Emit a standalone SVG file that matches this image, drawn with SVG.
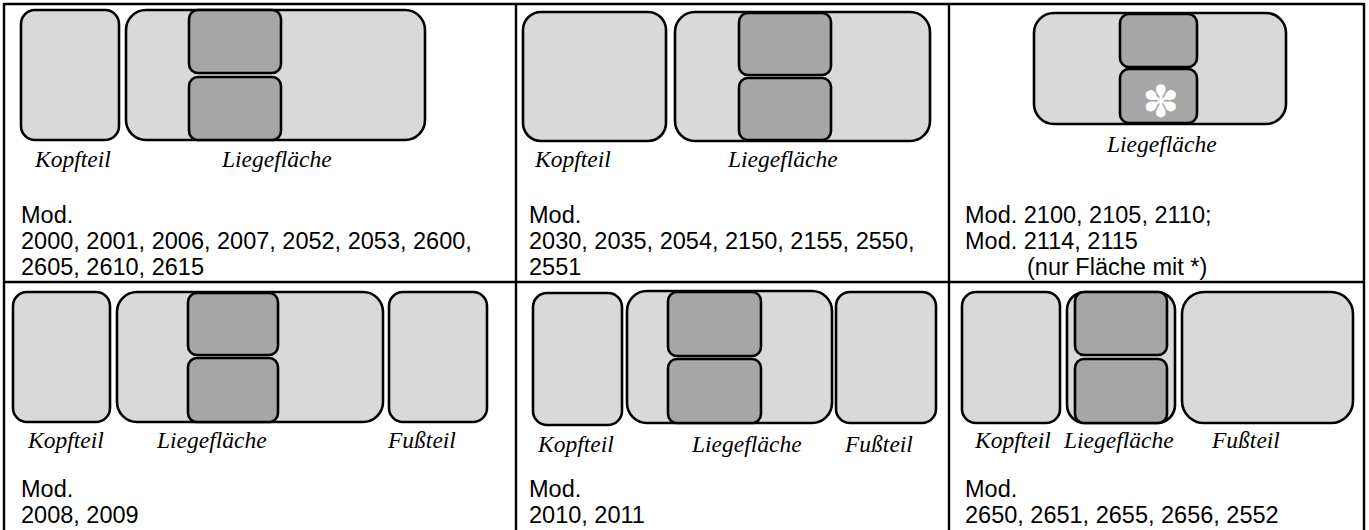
<svg xmlns="http://www.w3.org/2000/svg" width="1369" height="530" viewBox="0 0 1369 530">
<style>
.grid{stroke:#000;stroke-width:2.4;fill:none}
.lt{fill:#d9d9d9;stroke:#000;stroke-width:2.6}
.dk{fill:#a6a6a6;stroke:#000;stroke-width:2.6}
.lbl{font-family:"Liberation Serif","Times New Roman",serif;font-style:italic;font-size:23.5px;fill:#000}
.mod{font-family:"Liberation Sans",Arial,sans-serif;font-size:23.5px;fill:#000}
.star{font-family:"DejaVu Sans",sans-serif;font-size:44px;fill:#fff}
</style>
<rect width="1369" height="530" fill="#fff"/>
<g id="table">
<line class="grid" x1="4" y1="4" x2="1364" y2="4"/>
<line class="grid" x1="4" y1="282" x2="1364" y2="282"/>
<line class="grid" x1="4" y1="3" x2="4" y2="530"/>
<line class="grid" x1="516" y1="3" x2="516" y2="530"/>
<line class="grid" x1="949" y1="3" x2="949" y2="530"/>
<line class="grid" x1="1364" y1="3" x2="1364" y2="530"/>
</g>
<g id="cell1">
<rect class="lt" x="21" y="10" width="98" height="130" rx="14"/>
<rect class="lt" x="126" y="10" width="299" height="130" rx="20"/>
<rect class="dk" x="189" y="10" width="92" height="63" rx="9"/>
<rect class="dk" x="189" y="77" width="92" height="63" rx="9"/>
<text class="lbl" x="35" y="167">Kopfteil</text>
<text class="lbl" x="222" y="167">Liegefläche</text>
<text class="mod" x="21" y="223">Mod.</text>
<text class="mod" x="21" y="249">2000, 2001, 2006, 2007, 2052, 2053, 2600,</text>
<text class="mod" x="21" y="275">2605, 2610, 2615</text>
</g>
<g id="cell2">
<rect class="lt" x="523" y="12" width="143" height="129" rx="18"/>
<rect class="lt" x="675" y="12" width="255" height="129" rx="20"/>
<rect class="dk" x="739" y="13" width="92" height="62" rx="9"/>
<rect class="dk" x="739" y="78" width="92" height="62" rx="9"/>
<text class="lbl" x="535" y="167">Kopfteil</text>
<text class="lbl" x="728" y="167">Liegefläche</text>
<text class="mod" x="529" y="223">Mod.</text>
<text class="mod" x="529" y="249">2030, 2035, 2054, 2150, 2155, 2550,</text>
<text class="mod" x="529" y="275">2551</text>
</g>
<g id="cell3">
<rect class="lt" x="1034" y="13" width="252" height="111" rx="20"/>
<rect class="dk" x="1120" y="14" width="77" height="53" rx="9"/>
<rect class="dk" x="1120" y="69" width="77" height="54" rx="9"/>
<text class="star" x="1161" y="117" text-anchor="middle">✽</text>
<text class="lbl" x="1107" y="152">Liegefläche</text>
<text class="mod" x="965" y="223">Mod. 2100, 2105, 2110;</text>
<text class="mod" x="965" y="249">Mod. 2114, 2115</text>
<text class="mod" x="1027" y="275">(nur Fläche mit *)</text>
</g>
<g id="cell4">
<rect class="lt" x="13" y="292" width="97" height="130" rx="14"/>
<rect class="lt" x="117" y="292" width="266" height="130" rx="20"/>
<rect class="dk" x="188" y="293" width="90" height="62" rx="9"/>
<rect class="dk" x="188" y="358" width="90" height="64" rx="9"/>
<rect class="lt" x="389" y="292" width="98" height="130" rx="14"/>
<text class="lbl" x="28" y="448">Kopfteil</text>
<text class="lbl" x="157" y="448">Liegefläche</text>
<text class="lbl" x="388" y="448">Fußteil</text>
<text class="mod" x="21" y="497">Mod.</text>
<text class="mod" x="21" y="523">2008, 2009</text>
</g>
<g id="cell5">
<rect class="lt" x="533" y="293" width="89" height="132" rx="14"/>
<rect class="lt" x="627" y="291" width="205" height="132" rx="20"/>
<rect class="dk" x="668" y="292" width="93" height="64" rx="9"/>
<rect class="dk" x="668" y="359" width="93" height="64" rx="9"/>
<rect class="lt" x="836" y="292" width="100" height="131" rx="14"/>
<text class="lbl" x="538" y="452">Kopfteil</text>
<text class="lbl" x="692" y="452">Liegefläche</text>
<text class="lbl" x="845" y="452">Fußteil</text>
<text class="mod" x="529" y="497">Mod.</text>
<text class="mod" x="529" y="523">2010, 2011</text>
</g>
<g id="cell6">
<rect class="lt" x="962" y="292" width="98" height="131" rx="14"/>
<rect class="lt" x="1067" y="292" width="108" height="131" rx="18"/>
<rect class="dk" x="1075" y="292" width="92" height="63" rx="9"/>
<rect class="dk" x="1075" y="359" width="92" height="64" rx="9"/>
<rect class="lt" x="1182" y="292" width="171" height="131" rx="22"/>
<text class="lbl" x="975" y="448">Kopfteil</text>
<text class="lbl" x="1064" y="448">Liegefläche</text>
<text class="lbl" x="1212" y="448">Fußteil</text>
<text class="mod" x="965" y="497">Mod.</text>
<text class="mod" x="965" y="523">2650, 2651, 2655, 2656, 2552</text>
</g>
</svg>
